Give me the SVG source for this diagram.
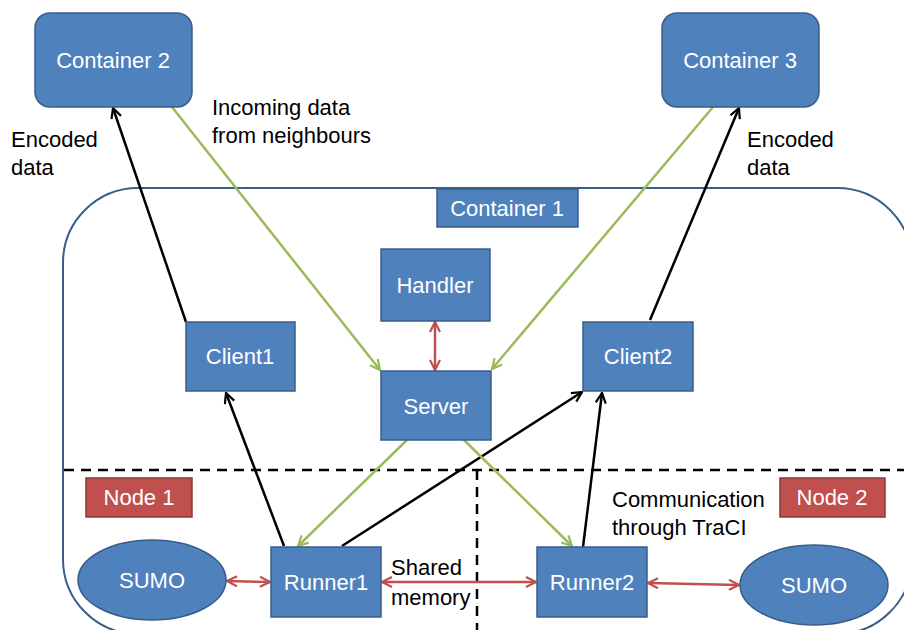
<svg xmlns="http://www.w3.org/2000/svg" width="904" height="630" viewBox="0 0 904 630">
<style>
  .box { fill: #4F81BD; stroke: #385D8A; stroke-width: 1.5; }
  .red { fill: #C0504D; stroke: #8C3836; stroke-width: 1.5; }
  .lbl { font-family: "Liberation Sans", Arial, sans-serif; font-size: 22px; fill: #ffffff; text-anchor: middle; }
  .txt { font-family: "Liberation Sans", Arial, sans-serif; font-size: 22px; fill: #000000; }
  .blk { stroke: #000000; stroke-width: 2.5; fill: none; marker-end: url(#ab); }
  .grn { stroke: #9BBB59; stroke-width: 2.5; fill: none; marker-end: url(#ag); }
  .rd { stroke: #C0504D; stroke-width: 2.5; fill: none; marker-start: url(#ar); marker-end: url(#ar); }
  .dash { stroke: #000000; stroke-width: 2.5; stroke-dasharray: 10 7; fill: none; }
</style>
<defs>
  <marker id="ab" viewBox="0 0 12 12" refX="11" refY="6" markerWidth="12" markerHeight="12" markerUnits="userSpaceOnUse" orient="auto-start-reverse">
    <path d="M1,1 L11,6 L1,11" fill="none" stroke="#000000" stroke-width="2.2"/>
  </marker>
  <marker id="ag" viewBox="0 0 12 12" refX="11" refY="6" markerWidth="12" markerHeight="12" markerUnits="userSpaceOnUse" orient="auto-start-reverse">
    <path d="M1,1 L11,6 L1,11" fill="none" stroke="#9BBB59" stroke-width="2.2"/>
  </marker>
  <marker id="ar" viewBox="0 0 12 12" refX="11" refY="6" markerWidth="12" markerHeight="12" markerUnits="userSpaceOnUse" orient="auto-start-reverse">
    <path d="M1,1 L11,6 L1,11" fill="none" stroke="#C0504D" stroke-width="2.2"/>
  </marker>
</defs>
<rect width="904" height="630" fill="#ffffff"/>

<g id="container1">
  <rect x="63" y="188" width="849" height="446" rx="75" ry="75" fill="none" stroke="#385D8A" stroke-width="2"/>
  <rect class="box" x="437" y="189" width="141" height="38"/>
  <text class="lbl" x="507" y="216">Container 1</text>
</g>

<g id="dividers">
  <line class="dash" x1="64" y1="470" x2="904" y2="470"/>
  <line class="dash" x1="477" y1="470" x2="477" y2="630"/>
</g>

<g id="connectors">
  <line class="blk" x1="186" y1="322" x2="113" y2="108"/>
  <line class="grn" x1="172" y1="107" x2="380" y2="370"/>
  <line class="grn" x1="713" y1="107" x2="492" y2="369"/>
  <line class="blk" x1="650" y1="320" x2="739" y2="108"/>
  <line class="rd" x1="435" y1="322" x2="435" y2="370"/>
  <line class="blk" x1="284" y1="546" x2="226" y2="393"/>
  <line class="blk" x1="342" y1="546" x2="582" y2="392"/>
  <line class="grn" x1="407" y1="440" x2="298" y2="546"/>
  <line class="grn" x1="462" y1="438" x2="572" y2="546"/>
  <line class="blk" x1="583" y1="547" x2="602" y2="393"/>
  <line class="rd" x1="227" y1="581" x2="270" y2="582"/>
  <line class="rd" x1="382" y1="582" x2="536" y2="582"/>
  <line class="rd" x1="648" y1="583" x2="739" y2="585"/>
</g>

<g id="container2">
  <rect class="box" x="35" y="13" width="157" height="94" rx="15" ry="15"/>
  <text class="lbl" x="113" y="68">Container 2</text>
</g>
<g id="container3">
  <rect class="box" x="662" y="13" width="157" height="94" rx="15" ry="15"/>
  <text class="lbl" x="740" y="68">Container 3</text>
</g>
<g id="handler">
  <rect class="box" x="381" y="249" width="109" height="72"/>
  <text class="lbl" x="435" y="293">Handler</text>
</g>
<g id="server">
  <rect class="box" x="381" y="371" width="110" height="69"/>
  <text class="lbl" x="436" y="414">Server</text>
</g>
<g id="client1">
  <rect class="box" x="186" y="322" width="109" height="69"/>
  <text class="lbl" x="240" y="364">Client1</text>
</g>
<g id="client2">
  <rect class="box" x="583" y="322" width="110" height="69"/>
  <text class="lbl" x="638" y="364">Client2</text>
</g>
<g id="runner1">
  <rect class="box" x="271" y="547" width="110" height="70"/>
  <text class="lbl" x="326" y="590">Runner1</text>
</g>
<g id="runner2">
  <rect class="box" x="537" y="547" width="110" height="70"/>
  <text class="lbl" x="592" y="590">Runner2</text>
</g>
<g id="sumo1">
  <ellipse class="box" cx="152" cy="580" rx="74" ry="40"/>
  <text class="lbl" x="152" y="588">SUMO</text>
</g>
<g id="sumo2">
  <ellipse class="box" cx="814" cy="585" rx="74" ry="40"/>
  <text class="lbl" x="814" y="593">SUMO</text>
</g>
<g id="node1">
  <rect class="red" x="86" y="478" width="106" height="39"/>
  <text class="lbl" x="139" y="505">Node 1</text>
</g>
<g id="node2">
  <rect class="red" x="780" y="478" width="105" height="39"/>
  <text class="lbl" x="832" y="505">Node 2</text>
</g>

<g id="labels">
  <text class="txt" x="11" y="147">Encoded</text>
  <text class="txt" x="11" y="175">data</text>
  <text class="txt" x="212" y="115">Incoming data</text>
  <text class="txt" x="212" y="143">from neighbours</text>
  <text class="txt" x="747" y="147">Encoded</text>
  <text class="txt" x="747" y="175">data</text>
  <text class="txt" x="391" y="575">Shared</text>
  <text class="txt" x="391" y="605">memory</text>
  <text class="txt" x="612" y="507">Communication</text>
  <text class="txt" x="612" y="535">through TraCI</text>
</g>
</svg>
